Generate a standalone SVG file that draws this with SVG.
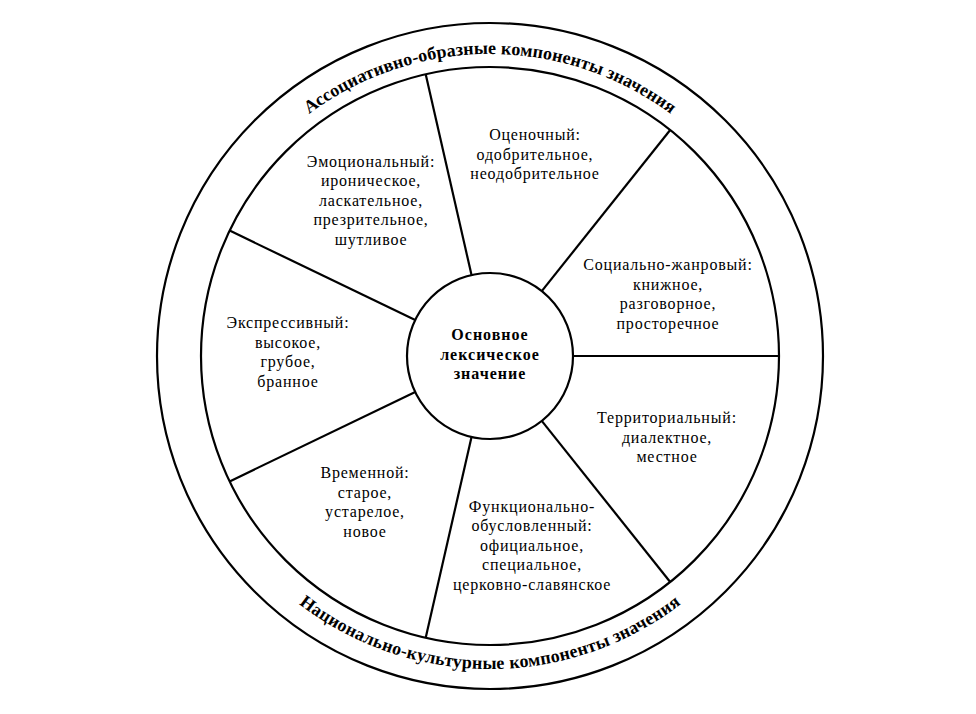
<svg xmlns="http://www.w3.org/2000/svg" width="976" height="714" viewBox="0 0 976 714">
  <style>
    .ln { fill: none; stroke: #000; stroke-width: 2.2; }
    .sec { font-family: "Liberation Serif", "Times New Roman", serif; font-size: 16px; letter-spacing: 0.8px; fill: #000; text-anchor: middle; }
    .ctr { font-family: "Liberation Serif", "Times New Roman", serif; font-size: 16px; font-weight: bold; letter-spacing: 1px; fill: #000; text-anchor: middle; }
    .arc { font-family: "Liberation Serif", "Times New Roman", serif; font-size: 18px; font-weight: bold; fill: #000; }
  </style>
  <defs>
    <path id="topArc" d="M 188 356 A 302 302 0 0 1 792 356"/>
    <path id="botArc" d="M 177 356 A 313 313 0 0 0 803 356"/>
  </defs>
  <rect width="976" height="714" fill="#fff"/>

  <g id="ring">
    <circle class="ln" cx="490" cy="356" r="333"/>
    <circle class="ln" cx="490" cy="356" r="289"/>
    <text class="arc" letter-spacing="0.1"><textPath href="#topArc" startOffset="50%" text-anchor="middle">Ассоциативно-образные компоненты значения</textPath></text>
    <text class="arc" letter-spacing="0.25"><textPath href="#botArc" startOffset="50%" text-anchor="middle">Национально-культурные компоненты значения</textPath></text>
  </g>

  <g id="connectors">
    <line class="ln" x1="573" y1="356" x2="779" y2="356"/>
    <line class="ln" x1="541.75" y1="291.11" x2="670.19" y2="130.06"/>
    <line class="ln" x1="471.53" y1="275.08" x2="425.70" y2="74.25"/>
    <line class="ln" x1="415.22" y1="319.99" x2="229.61" y2="230.60"/>
    <line class="ln" x1="415.22" y1="392.01" x2="229.61" y2="481.40"/>
    <line class="ln" x1="471.53" y1="436.92" x2="425.70" y2="637.75"/>
    <line class="ln" x1="541.75" y1="420.89" x2="670.19" y2="581.94"/>
  </g>

  <g id="center">
    <circle class="ln" cx="490" cy="356" r="83"/>
    <text class="ctr"><tspan x="490" y="340">Основное</tspan><tspan x="490" y="359.5">лексическое</tspan><tspan x="490" y="379">значение</tspan></text>
  </g>

  <g id="emotional">
    <text class="sec"><tspan x="371" y="166.5">Эмоциональный:</tspan><tspan x="371" y="186">ироническое,</tspan><tspan x="371" y="205.5">ласкательное,</tspan><tspan x="371" y="225">презрительное,</tspan><tspan x="371" y="245">шутливое</tspan></text>
  </g>
  <g id="evaluative">
    <text class="sec"><tspan x="535" y="140">Оценочный:</tspan><tspan x="535" y="159.5">одобрительное,</tspan><tspan x="535" y="179">неодобрительное</tspan></text>
  </g>
  <g id="social">
    <text class="sec"><tspan x="668" y="270">Социально-жанровый:</tspan><tspan x="668" y="289.5">книжное,</tspan><tspan x="668" y="309">разговорное,</tspan><tspan x="668" y="328.5">просторечное</tspan></text>
  </g>
  <g id="territorial">
    <text class="sec"><tspan x="667" y="423">Территориальный:</tspan><tspan x="667" y="442.5">диалектное,</tspan><tspan x="667" y="462">местное</tspan></text>
  </g>
  <g id="functional">
    <text class="sec"><tspan x="532" y="511.5">Функционально-</tspan><tspan x="532" y="531">обусловленный:</tspan><tspan x="532" y="550.5">официальное,</tspan><tspan x="532" y="570">специальное,</tspan><tspan x="532" y="589.5">церковно-славянское</tspan></text>
  </g>
  <g id="temporal">
    <text class="sec"><tspan x="365" y="478">Временной:</tspan><tspan x="365" y="497.5">старое,</tspan><tspan x="365" y="517">устарелое,</tspan><tspan x="365" y="536.5">новое</tspan></text>
  </g>
  <g id="expressive">
    <text class="sec"><tspan x="288" y="328">Экспрессивный:</tspan><tspan x="288" y="347.5">высокое,</tspan><tspan x="288" y="367">грубое,</tspan><tspan x="288" y="386.5">бранное</tspan></text>
  </g>
</svg>
